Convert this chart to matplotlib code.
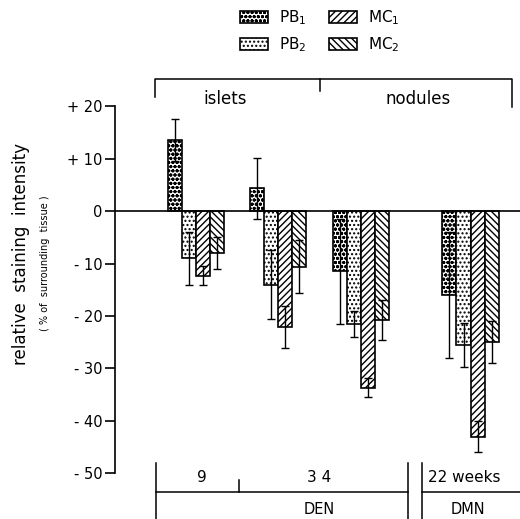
import numpy as np
from matplotlib import pyplot as plt

plt.rcParams["font.family"] = ["DejaVu Sans"]
plt.rcParams["mathtext.default"] = "regular"
plt.rcParams["hatch.linewidth"] = 1.0

# groups: islets 9, islets 34, nodules 34 (DEN), nodules 22 weeks (DMN)
groups = ["islets 9", "islets 34", "nodules 34", "nodules 22 weeks"]
series = ["PB$_1$", "PB$_2$", "MC$_1$", "MC$_2$"]

pb1_mean = [13.5, 4.3, -11.5, -16.0]
pb1_err = [4.0, 5.8, 10.0, 12.0]
pb2_mean = [-9.0, -14.0, -21.5, -25.5]
pb2_err = [5.0, 6.5, 2.5, 4.2]
mc1_mean = [-12.3, -22.0, -33.7, -43.0]
mc1_err = [1.8, 4.0, 1.8, 3.0]
mc2_mean = [-8.0, -10.6, -20.8, -25.0]
mc2_err = [3.0, 5.0, 3.8, 4.0]

y_ticks = [20, 10, 0, -10, -20, -30, -40, -50]
y_tick_labels = ["+ 20", "+ 10", "0", "- 10", "- 20", "- 30", "- 40", "- 50"]

means = [pb1_mean, pb2_mean, mc1_mean, mc2_mean]
errs = [pb1_err, pb2_err, mc1_err, mc2_err]
hatches = ["oooo", "....", "/////", "\\\\\\\\\\"]

# layout: group centres (gap before DMN)
group_pos = np.array([0.0, 1.0, 2.0, 3.33])
bar_w = 0.17

fig = plt.figure(figsize=(5.2, 5.19), dpi=100)
ax = fig.add_axes([0.2212, 0.0877, 0.7788, 0.708])

handles = []
for i in range(4):
    x = group_pos + (i - 1.5) * bar_w
    bars = ax.bar(x, means[i], width=bar_w, color="white", edgecolor="black",
                  hatch=hatches[i], linewidth=1.2, label=series[i])
    handles.append(bars)
    ax.errorbar(x, means[i], yerr=errs[i], fmt="none", ecolor="black",
                elinewidth=1.0, capsize=3, capthick=1.0)

ax.axhline(0, color="black", lw=1.2)
ax.set_xlim(-0.98, 3.93)
ax.set_ylim(-50, 20)
ax.set_yticks(y_ticks)
ax.set_yticklabels(y_tick_labels, fontsize=10.5)
ax.tick_params(axis="y", length=7, width=1.2, pad=2)
ax.set_xticks([])
for s in ["top", "right", "bottom"]:
    ax.spines[s].set_visible(False)
ax.spines["left"].set_linewidth(1.2)

# top bracket: islets | nodules
kw = dict(color="black", lw=1.1, clip_on=False)
ax.plot([-0.497, -0.497, 3.83, 3.83], [21.7, 25.1, 25.1, 19.8], **kw)
ax.plot([1.503, 1.503], [25.1, 22.9], **kw)
ax.text(0.35, 21.3, "islets", ha="center", va="center", fontsize=12)
ax.text(2.69, 21.3, "nodules", ha="center", va="center", fontsize=12)

# bottom bracket: weeks and carcinogen
ax.plot([-0.485, -0.485], [-48, -62], **kw)
ax.plot([0.52, 0.52], [-51.3, -53.5], **kw)
ax.plot([-0.485, 2.57], [-53.5, -53.5], **kw)
ax.plot([2.57, 2.57], [-48, -62], **kw)
ax.plot([2.74, 2.74], [-48, -62], **kw)
ax.plot([2.74, 4.2], [-53.5, -53.5], **kw)
ax.text(0.07, -50.7, "9", ha="center", va="center", fontsize=11)
ax.text(1.5, -50.7, "3 4", ha="center", va="center", fontsize=11)
ax.text(3.26, -50.7, "22 weeks", ha="center", va="center", fontsize=11)
ax.text(1.5, -56.8, "DEN", ha="center", va="center", fontsize=10.5)
ax.text(3.3, -56.8, "DMN", ha="center", va="center", fontsize=10.5)

# axis labels
fig.text(0.040, 0.51, "relative  staining  intensity", rotation=90,
         ha="center", va="center", fontsize=12)
fig.text(0.086, 0.493, "( % of  surrounding  tissue )", rotation=90,
         ha="center", va="center", fontsize=7)

fig.legend(handles=handles, labels=series, ncol=2, frameon=False,
           loc="center", bbox_to_anchor=(0.615, 0.94), fontsize=11,
           handlelength=1.85, handleheight=0.75, columnspacing=1.5,
           labelspacing=0.55, handletextpad=0.7)

fig.savefig("out.png", dpi=100)
